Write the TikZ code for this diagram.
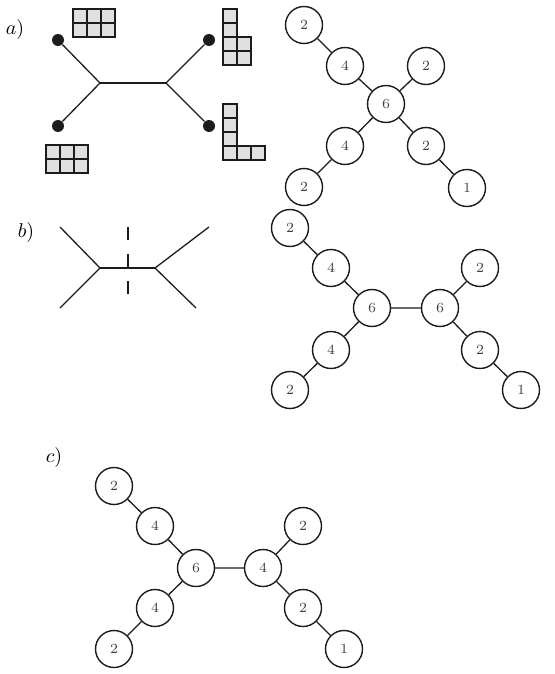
\documentclass[tikz,border=0pt]{standalone}
\usepackage{xcolor}
\definecolor{ink}{RGB}{28,28,28}
\definecolor{cellgray}{RGB}{224,224,224}
\usepackage{tikz}
\usetikzlibrary{positioning,calc}
\tikzset{
  %% tree vertices and their links
  vert/.style={circle, draw=ink, line width=0.7pt, minimum size=18.5pt,
               inner sep=0pt, font=\scriptsize, text=ink!85},
  link/.style={draw=ink, line width=0.65pt},
  %% leg ends of the vertex diagram
  legdot/.style={circle, fill=ink, minimum size=6pt, inner sep=0pt},
  ydcell/.style={draw=ink, line width=0.7pt, fill=cellgray},
  partlabel/.style={font=\normalsize},
}
\newcommand{\ydbox}[2]{\filldraw[ydcell] (#1,#2) rectangle ++(14,14);}

\begin{document}
\begin{tikzpicture}[x=0.5pt, y=-0.5pt]
\useasboundingbox (0,0) rectangle (554,674);

%% a)
\node[partlabel] (lba) at (15,30) {$a)$};
\node[legdot] (pa) at (58,40) {};
\node[legdot] (pb) at (58,126) {};
\node[legdot] (pc) at (209,40) {};
\node[legdot] (pd) at (209,126) {};
\coordinate (ja) at (100,83);
\coordinate (jb) at (166,83);
\draw[link] (pa) -- (ja) -- (pb);
\draw[link] (ja) -- (jb);
\draw[link] (pc) -- (jb) -- (pd);
% young diagrams
\foreach \i in {0,1,2} {\ydbox{73+14*\i}{9} \ydbox{73+14*\i}{23}}
\foreach \i in {0,1,2} {\ydbox{46+14*\i}{145} \ydbox{46+14*\i}{159}}
\ydbox{223}{9} \ydbox{223}{23}
\foreach \i in {0,1} {\ydbox{223+14*\i}{37} \ydbox{223+14*\i}{51}}
\ydbox{223}{104} \ydbox{223}{118} \ydbox{223}{132}
\foreach \i in {0,1,2} {\ydbox{223+14*\i}{146}}

\node[vert] (a6) at (386,104) {6};
\node[vert] (a4u) at (345,66) {4};
\node[vert] (a2u) at (304,25) {2};
\node[vert] (a2r) at (426,66) {2};
\node[vert] (a4d) at (345,146) {4};
\node[vert] (a2d) at (304,187) {2};
\node[vert] (a2s) at (426,146) {2};
\node[vert] (a1) at (467,188) {1};
\draw[link] (a2u) -- (a4u) -- (a6) -- (a2r);
\draw[link] (a6) -- (a4d) -- (a2d);
\draw[link] (a6) -- (a2s) -- (a1);

%% b)
\node[partlabel] (lbb) at (26,232) {$b)$};
\coordinate (ea) at (60,227);
\coordinate (eb) at (60,308);
\coordinate (ec) at (209,227);
\coordinate (ed) at (196,308);
\coordinate (ka) at (100,268);
\coordinate (kb) at (155,268);
\coordinate (cuta) at (128,227);
\coordinate (cutb) at (128,295);
\draw[link] (ea) -- (ka) -- (eb);
\draw[link] (ka) -- (kb);
\draw[link] (ec) -- (kb) -- (ed);
\draw[link, dash pattern=on 6.5pt off 7pt] (cuta) -- (cutb);

\node[vert] (b6l) at (372,308) {6};
\node[vert] (b6r) at (440,308) {6};
\node[vert] (b4u) at (331,268) {4};
\node[vert] (b2u) at (290,228) {2};
\node[vert] (b4d) at (331,350) {4};
\node[vert] (b2d) at (290,390) {2};
\node[vert] (b2r) at (480,268) {2};
\node[vert] (b2s) at (480,350) {2};
\node[vert] (b1) at (521,390) {1};
\draw[link] (b2u) -- (b4u) -- (b6l) -- (b4d) -- (b2d);
\draw[link] (b6l) -- (b6r) -- (b2r);
\draw[link] (b6r) -- (b2s) -- (b1);

%% c)
\node[partlabel] (lbc) at (54,457) {$c)$};
\node[vert] (c6) at (196,568) {6};
\node[vert] (c4r) at (263,568) {4};
\node[vert] (c4u) at (155,526) {4};
\node[vert] (c2u) at (114,486) {2};
\node[vert] (c4d) at (155,608) {4};
\node[vert] (c2d) at (114,649) {2};
\node[vert] (c2r) at (303,526) {2};
\node[vert] (c2s) at (303,608) {2};
\node[vert] (c1) at (344,649) {1};
\draw[link] (c2u) -- (c4u) -- (c6) -- (c4d) -- (c2d);
\draw[link] (c6) -- (c4r) -- (c2r);
\draw[link] (c4r) -- (c2s) -- (c1);
\end{tikzpicture}
\end{document}
